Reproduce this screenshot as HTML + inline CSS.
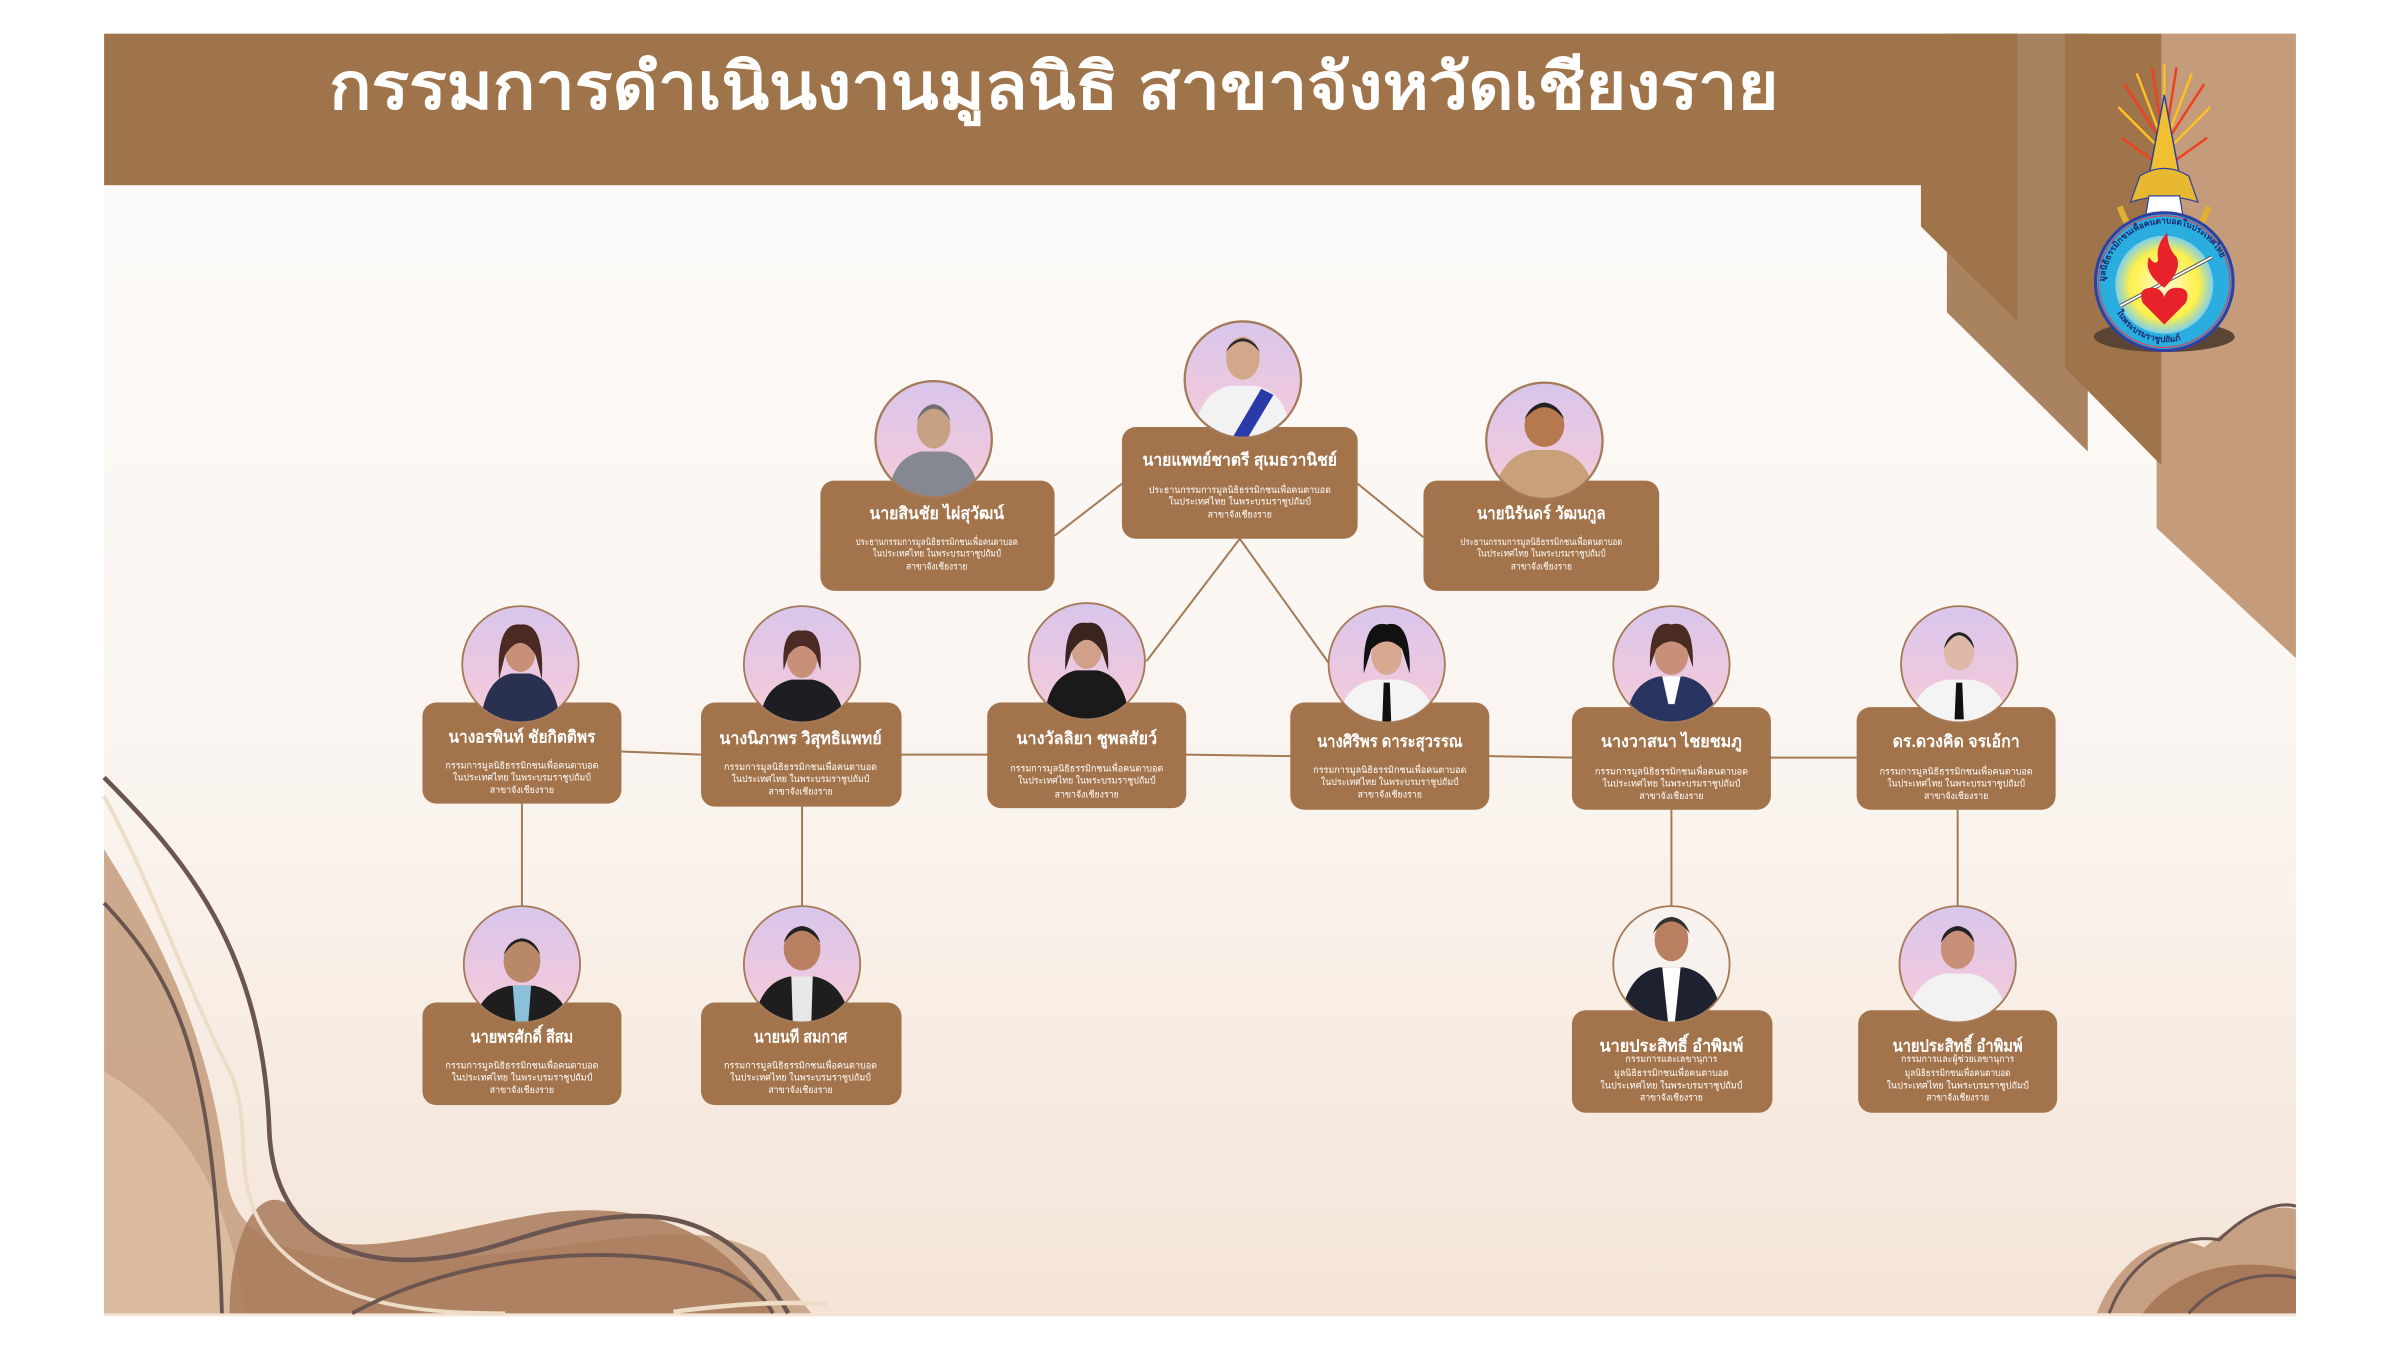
<!DOCTYPE html>
<html><head><meta charset="utf-8">
<style>
html,body{margin:0;padding:0;background:#fff;}
svg{display:block;}
text{font-family:"Liberation Sans","Noto Sans CJK SC",sans-serif;fill:#fff;}
.nm{font-size:11px;font-weight:bold;text-anchor:middle;}
.sb{font-size:6.2px;text-anchor:middle;}
</style></head>
<body>
<svg width="2400" height="1350" viewBox="0 0 1568 882" xmlns="http://www.w3.org/2000/svg">
<defs>
<linearGradient id="bg" x1="0" y1="0" x2="0" y2="1">
<stop offset="0" stop-color="#fdfcfb"/><stop offset="0.6" stop-color="#faf4ef"/><stop offset="1" stop-color="#f4e4d6"/>
</linearGradient>
<linearGradient id="ph" x1="0" y1="0" x2="0" y2="1">
<stop offset="0" stop-color="#d8c6ec"/><stop offset="0.6" stop-color="#ecc8e0"/><stop offset="1" stop-color="#f3cfd8"/>
</linearGradient>
<radialGradient id="sun" cx="0.5" cy="0.5" r="0.5">
<stop offset="0" stop-color="#fffbd0"/><stop offset="0.7" stop-color="#fff04a"/><stop offset="1" stop-color="#7fd0e8"/>
</radialGradient>
<clipPath id="cc"><circle cx="0" cy="0" r="38"/></clipPath>
<path id="arcTop" d="M1375,186 A40,40 0 0 1 1455,186"/>
<path id="arcBot" d="M1380,196 A36,36 0 0 0 1450,196"/>
</defs>

<!-- panel -->
<rect x="68" y="22" width="1432" height="838" fill="url(#bg)"/>

<!-- right decorations -->
<polygon points="1409,22 1500,22 1500,430 1409,345" fill="#c49b7b"/>
<polygon points="1272,22 1364,22 1364,295 1272,204" fill="#a9825f"/>
<polygon points="1349,22 1412,22 1412,304 1349,240" fill="#a0744a"/>
<polygon points="1255,22 1318,22 1318,210 1255,148" fill="#a0744a"/>
<!-- header -->
<rect x="68" y="22" width="1188" height="99" fill="#a0744a"/>
<text x="215" y="71" font-size="42" font-weight="bold" textLength="947" lengthAdjust="spacingAndGlyphs">กรรมการดำเนินงานมูลนิธิ สาขาจังหวัดเชียงราย</text>

<!-- logo -->
<g>
<g stroke-width="1.6">
<line x1="1414" y1="95" x2="1388" y2="55" stroke="#f04020"/>
<line x1="1414" y1="95" x2="1396" y2="48" stroke="#ffc020"/>
<line x1="1414" y1="95" x2="1406" y2="44" stroke="#f04020"/>
<line x1="1414" y1="95" x2="1414" y2="42" stroke="#ffc020"/>
<line x1="1414" y1="95" x2="1422" y2="44" stroke="#f04020"/>
<line x1="1414" y1="95" x2="1432" y2="48" stroke="#ffc020"/>
<line x1="1414" y1="95" x2="1440" y2="55" stroke="#f04020"/>
<line x1="1414" y1="100" x2="1384" y2="70" stroke="#ffc020"/>
<line x1="1414" y1="100" x2="1444" y2="70" stroke="#ffc020"/>
<line x1="1414" y1="110" x2="1386" y2="90" stroke="#f04020"/>
<line x1="1414" y1="110" x2="1442" y2="90" stroke="#f04020"/>
</g>
<polygon points="1414,62 1404,115 1424,115" fill="#f0c030" stroke="#3040a0" stroke-width="1"/>
<path d="M1398,115 Q1414,105 1430,115 L1436,132 Q1414,125 1392,132 Z" fill="#e8b830" stroke="#3040a0" stroke-width="0.8"/>
<path d="M1385,135 Q1390,150 1400,158 M1443,135 Q1438,150 1428,158" stroke="#e0b030" stroke-width="4" fill="none"/>
<path d="M1404,128 L1424,128 L1426,140 Q1434,150 1440,160 L1388,160 Q1394,150 1402,140 Z" fill="#fff" stroke="#3040a0" stroke-width="0.8"/>
<ellipse cx="1414" cy="220" rx="46" ry="10" fill="#5a4535"/>
<circle cx="1414" cy="184" r="45" fill="#2aaee0" stroke="#3040a0" stroke-width="2"/>
<circle cx="1414" cy="184" r="43" fill="none" stroke="#e04050" stroke-width="0.8"/>
<circle cx="1414" cy="186" r="32" fill="url(#sun)"/>
<line x1="1385" y1="200" x2="1445" y2="168" stroke="#555" stroke-width="2.5"/>
<line x1="1385" y1="200" x2="1445" y2="168" stroke="#fff" stroke-width="1.2"/>
<path d="M1414,188 Q1400,178 1404,168 Q1408,174 1410,170 Q1408,160 1416,152 Q1416,162 1422,168 Q1426,176 1414,188 Z" fill="#e8222a"/>
<path d="M1414,212 L1400,198 Q1396,188 1406,188 Q1412,188 1414,194 Q1416,188 1422,188 Q1432,188 1428,198 Z" fill="#e8222a"/>
<text font-size="5.5" font-weight="bold" style="fill:#1a2a70"><textPath href="#arcTop" startOffset="2">มูลนิธิธรรมิกชนเพื่อคนตาบอดในประเทศไทย</textPath></text>
<text font-size="5.5" font-weight="bold" style="fill:#1a2a70"><textPath href="#arcBot" startOffset="8">ในพระบรมราชูปถัมภ์</textPath></text>
</g>

<!-- bottom-left waves -->
<g>
<path d="M68,555 C110,620 140,690 148,770 C156,820 210,826 290,822 C380,818 450,790 500,820 L530,858 L68,858 Z" fill="#c7a083" opacity="0.9"/>
<path d="M68,700 C120,730 150,780 160,858 L68,858 Z" fill="#dcbc9e"/>
<path d="M150,858 C150,800 175,760 200,800 C220,830 300,800 360,792 C420,786 470,800 505,858 Z" fill="#a87a5a" opacity="0.85"/>
<path d="M68,520 C100,580 120,640 150,700 C170,740 140,790 200,830 C240,858 300,858 330,858" stroke="#eddcc6" stroke-width="2.5" fill="none"/>
<path d="M68,508 C120,560 172,620 176,740 C180,820 250,838 330,812 C410,786 470,780 515,858" stroke="#6b5550" stroke-width="3" fill="none"/>
<path d="M68,590 C115,640 140,690 145,858" stroke="#6b5550" stroke-width="2.5" fill="none"/>
<path d="M230,858 C300,820 400,810 470,830 C490,838 500,848 505,858" stroke="#6b5550" stroke-width="2.5" fill="none"/>
<path d="M440,857 C480,852 510,850 540,852" stroke="#eddcc6" stroke-width="3" fill="none"/>
</g>
<!-- bottom-right waves -->
<g>
<path d="M1370,858 C1380,830 1410,800 1440,815 C1460,800 1480,785 1500,790 L1500,858 Z" fill="#c7a083"/>
<path d="M1400,858 C1420,830 1460,820 1500,830 L1500,858 Z" fill="#a87a5a"/>
<path d="M1378,858 C1390,825 1420,805 1450,810 C1470,790 1490,785 1500,788" stroke="#6b5550" stroke-width="2" fill="none"/>
<path d="M1430,858 C1450,835 1480,830 1500,835" stroke="#6b5550" stroke-width="2" fill="none"/>
</g>

<!-- connectors -->
<g stroke="#a47a55" stroke-width="1.3" fill="none">
<line x1="689" y1="350" x2="733" y2="316"/>
<line x1="887" y1="316" x2="930" y2="351"/>
<line x1="810" y1="352" x2="749" y2="432"/>
<line x1="810" y1="352" x2="868" y2="433"/>
<polyline points="406,491 458,493 589,493 645,493 775,493 843,494 973,494 1027,495 1157,495 1213,495"/>
<line x1="341" y1="525" x2="341" y2="592"/>
<line x1="524" y1="527" x2="524" y2="592"/>
<line x1="1092" y1="529" x2="1092" y2="592"/>
<line x1="1279" y1="529" x2="1279" y2="592"/>
</g>

<!-- boxes -->
<g fill="#a3744b">
<rect x="733" y="279" width="154" height="73" rx="9"/>
<rect x="536" y="314" width="153" height="72" rx="9"/>
<rect x="930" y="314" width="154" height="72" rx="9"/>
<rect x="276" y="459" width="130" height="66" rx="9"/>
<rect x="458" y="459" width="131" height="68" rx="9"/>
<rect x="645" y="459" width="130" height="69" rx="9"/>
<rect x="843" y="459" width="130" height="70" rx="9"/>
<rect x="1027" y="462" width="130" height="67" rx="9"/>
<rect x="1213" y="462" width="130" height="67" rx="9"/>
<rect x="276" y="655" width="130" height="67" rx="9"/>
<rect x="458" y="655" width="131" height="67" rx="9"/>
<rect x="1027" y="660" width="131" height="67" rx="9"/>
<rect x="1214" y="660" width="130" height="67" rx="9"/>
</g>

<!-- photos -->
<g id="photos">
<!-- N0 -->
<g transform="translate(812,248)"><g clip-path="url(#cc)"><circle r="38" fill="url(#ph)"/>
<path d="M-32,40 Q-30,8 -8,4 L8,4 Q30,8 32,40 Z" fill="#f2f2f2"/><path d="M12,6 L-8,40 L2,40 L20,10 Z" fill="#2a3aa8"/>
<ellipse cx="0" cy="-14" rx="11" ry="14" fill="#d3a88a"/><path d="M-11,-18 Q0,-32 11,-18 Q8,-26 0,-27 Q-8,-26 -11,-18Z" fill="#2a2a2a"/></g>
<circle r="38" fill="none" stroke="#a57a58" stroke-width="1.5"/></g>
<!-- N1 -->
<g transform="translate(610,287)"><g clip-path="url(#cc)"><circle r="38" fill="url(#ph)"/>
<path d="M-30,40 Q-28,12 -8,8 L8,8 Q28,12 30,40 Z" fill="#858890"/>
<ellipse cx="0" cy="-8" rx="11" ry="14" fill="#c8a084"/><path d="M-11,-12 Q0,-28 11,-12 Q8,-22 0,-23 Q-8,-22 -11,-12Z" fill="#707070"/></g>
<circle r="38" fill="none" stroke="#a57a58" stroke-width="1.5"/></g>
<!-- N2 -->
<g transform="translate(1009,288)"><g clip-path="url(#cc)"><circle r="38" fill="url(#ph)"/>
<path d="M-34,40 Q-30,10 -8,6 L8,6 Q30,10 34,40 Z" fill="#c8a07a"/>
<ellipse cx="0" cy="-10" rx="13" ry="14" fill="#b5784f"/><path d="M-13,-14 Q0,-30 13,-14 Q9,-24 0,-25 Q-9,-24 -13,-14Z" fill="#222"/></g>
<circle r="38" fill="none" stroke="#a57a58" stroke-width="1.5"/></g>
<!-- A -->
<g transform="translate(340,434)"><g clip-path="url(#cc)"><circle r="38" fill="url(#ph)"/>
<path d="M-26,40 Q-24,10 -6,6 L6,6 Q24,10 26,40 Z" fill="#2a3050"/>
<ellipse cx="0" cy="-8" rx="10" ry="13" fill="#c89078"/><path d="M-14,10 Q-16,-28 0,-26 Q16,-28 14,10 L10,-6 Q0,-22 -10,-6Z" fill="#4a2a22"/></g>
<circle r="38" fill="none" stroke="#a57a58" stroke-width="1.2"/></g>
<!-- B -->
<g transform="translate(524,434)"><g clip-path="url(#cc)"><circle r="38" fill="url(#ph)"/>
<path d="M-28,40 Q-26,14 -7,10 L7,10 Q26,14 28,40 Z" fill="#1e1e22"/>
<ellipse cx="0" cy="-4" rx="10" ry="13" fill="#c89078"/><path d="M-12,4 Q-14,-24 0,-22 Q14,-24 12,4 L9,-6 Q0,-18 -9,-6Z" fill="#4a2a22"/></g>
<circle r="38" fill="none" stroke="#a57a58" stroke-width="1.2"/></g>
<!-- C -->
<g transform="translate(710,432)"><g clip-path="url(#cc)"><circle r="38" fill="url(#ph)"/>
<path d="M-28,40 Q-26,10 -7,6 L7,6 Q26,10 28,40 Z" fill="#1a1a1a"/>
<ellipse cx="0" cy="-8" rx="10" ry="13" fill="#d0a088"/><path d="M-14,6 Q-15,-28 0,-25 Q15,-28 14,6 L10,-6 Q0,-22 -10,-6Z" fill="#3a2420"/></g>
<circle r="38" fill="none" stroke="#a57a58" stroke-width="1.2"/></g>
<!-- D -->
<g transform="translate(906,434)"><g clip-path="url(#cc)"><circle r="38" fill="url(#ph)"/>
<path d="M-32,40 Q-30,14 -8,10 L8,10 Q30,14 32,40 Z" fill="#f4f4f4"/><path d="M-2,12 L2,12 L3,40 L-3,40Z" fill="#111"/>
<ellipse cx="0" cy="-6" rx="10" ry="13" fill="#d8a890"/><path d="M-15,6 Q-16,-30 0,-26 Q16,-30 15,6 L10,-10 Q0,-20 -10,-10Z" fill="#111"/></g>
<circle r="38" fill="none" stroke="#a57a58" stroke-width="1.2"/></g>
<!-- E -->
<g transform="translate(1092,434)"><g clip-path="url(#cc)"><circle r="38" fill="url(#ph)"/>
<path d="M-30,40 Q-28,12 -8,8 L8,8 Q28,12 30,40 Z" fill="#283560"/><path d="M-6,8 L6,8 L2,26 L-2,26Z" fill="#fff"/>
<ellipse cx="0" cy="-6" rx="11" ry="13" fill="#c89078"/><path d="M-14,2 Q-15,-30 0,-26 Q15,-30 14,2 L10,-10 Q0,-20 -10,-10Z" fill="#4a2a22"/></g>
<circle r="38" fill="none" stroke="#a57a58" stroke-width="1.2"/></g>
<!-- F -->
<g transform="translate(1280,434)"><g clip-path="url(#cc)"><circle r="38" fill="url(#ph)"/>
<path d="M-32,40 Q-30,14 -8,10 L8,10 Q30,14 32,40 Z" fill="#f4f4f4"/><path d="M-2,12 L2,12 L3,36 L-3,36Z" fill="#111"/>
<ellipse cx="0" cy="-8" rx="10" ry="12" fill="#e0b8a8"/><path d="M-10,-10 Q0,-28 10,-10 Q8,-20 0,-21 Q-8,-20 -10,-10Z" fill="#222"/></g>
<circle r="38" fill="none" stroke="#a57a58" stroke-width="1.2"/></g>
<!-- G -->
<g transform="translate(341,630)"><g clip-path="url(#cc)"><circle r="38" fill="url(#ph)"/>
<path d="M-32,40 Q-28,18 -8,14 L8,14 Q28,18 32,40 Z" fill="#1e1e1e"/><path d="M-6,14 L6,14 L4,40 L-4,40Z" fill="#8ac0d8"/>
<ellipse cx="0" cy="-2" rx="12" ry="14" fill="#b88868"/><path d="M-12,-6 Q0,-24 12,-6 Q9,-16 0,-17 Q-9,-16 -12,-6Z" fill="#222"/></g>
<circle r="38" fill="none" stroke="#a57a58" stroke-width="1.2"/></g>
<!-- H -->
<g transform="translate(524,630)"><g clip-path="url(#cc)"><circle r="38" fill="url(#ph)"/>
<path d="M-32,40 Q-28,12 -8,8 L8,8 Q28,12 32,40 Z" fill="#1e1e1e"/><path d="M-7,8 L7,8 L6,40 L-6,40Z" fill="#e8e8e8"/>
<ellipse cx="0" cy="-10" rx="12" ry="14" fill="#b88060"/><path d="M-12,-14 Q0,-30 12,-14 Q9,-24 0,-25 Q-9,-24 -12,-14Z" fill="#222"/></g>
<circle r="38" fill="none" stroke="#a57a58" stroke-width="1.2"/></g>
<!-- I -->
<g transform="translate(1092,630)"><g clip-path="url(#cc)"><circle r="38" fill="#f8f2ee"/>
<path d="M-34,40 Q-30,6 -8,2 L8,2 Q30,6 34,40 Z" fill="#1e2230"/><path d="M-6,2 L6,2 L2,40 L-2,40Z" fill="#fff"/>
<ellipse cx="0" cy="-16" rx="11" ry="14" fill="#b88060"/><path d="M-12,-20 Q0,-36 12,-20 Q9,-30 0,-31 Q-9,-30 -12,-20Z" fill="#333"/></g>
<circle r="38" fill="none" stroke="#a57a58" stroke-width="1.2"/></g>
<!-- J -->
<g transform="translate(1279,630)"><g clip-path="url(#cc)"><circle r="38" fill="url(#ph)"/>
<path d="M-34,40 Q-30,10 -8,6 L8,6 Q30,10 34,40 Z" fill="#f2f2f2"/>
<ellipse cx="0" cy="-10" rx="11" ry="13" fill="#c89078"/><path d="M-11,-14 Q0,-30 11,-14 Q9,-24 0,-25 Q-9,-24 -11,-14Z" fill="#222"/></g>
<circle r="38" fill="none" stroke="#a57a58" stroke-width="1.2"/></g>
</g>

<!-- labels top row -->
<text class="nm" x="810" y="304" textLength="127" lengthAdjust="spacingAndGlyphs">นายแพทย์ชาตรี สุเมธวานิชย์</text>
<text class="sb" x="810" y="322" textLength="119" lengthAdjust="spacingAndGlyphs">ประธานกรรมการมูลนิธิธรรมิกชนเพื่อคนตาบอด</text>
<text class="sb" x="810" y="329.5" textLength="93" lengthAdjust="spacingAndGlyphs">ในประเทศไทย ในพระบรมราชูปถัมป์</text>
<text class="sb" x="810" y="338" textLength="42" lengthAdjust="spacingAndGlyphs">สาขาจังเชียงราย</text>

<text class="nm" x="612" y="339" textLength="88" lengthAdjust="spacingAndGlyphs">นายสินชัย ไผ่สุวัฒน์</text>
<text class="sb" x="612" y="356" textLength="106" lengthAdjust="spacingAndGlyphs">ประธานกรรมการมูลนิธิธรรมิกชนเพื่อคนตาบอด</text>
<text class="sb" x="612" y="363.5" textLength="84" lengthAdjust="spacingAndGlyphs">ในประเทศไทย ในพระบรมราชูปถัมป์</text>
<text class="sb" x="612" y="372" textLength="40" lengthAdjust="spacingAndGlyphs">สาขาจังเชียงราย</text>

<text class="nm" x="1007" y="339" textLength="84" lengthAdjust="spacingAndGlyphs">นายนิรันดร์ วัฒนกูล</text>
<text class="sb" x="1007" y="356" textLength="106" lengthAdjust="spacingAndGlyphs">ประธานกรรมการมูลนิธิธรรมิกชนเพื่อคนตาบอด</text>
<text class="sb" x="1007" y="363.5" textLength="84" lengthAdjust="spacingAndGlyphs">ในประเทศไทย ในพระบรมราชูปถัมป์</text>
<text class="sb" x="1007" y="372" textLength="40" lengthAdjust="spacingAndGlyphs">สาขาจังเชียงราย</text>

<!-- row 2 -->
<text class="nm" x="341" y="485" textLength="96" lengthAdjust="spacingAndGlyphs">นางอรพินท์ ชัยกิตติพร</text>
<text class="sb" x="341" y="502" textLength="100" lengthAdjust="spacingAndGlyphs">กรรมการมูลนิธิธรรมิกชนเพื่อคนตาบอด</text>
<text class="sb" x="341" y="510" textLength="90" lengthAdjust="spacingAndGlyphs">ในประเทศไทย ในพระบรมราชูปถัมป์</text>
<text class="sb" x="341" y="518" textLength="42" lengthAdjust="spacingAndGlyphs">สาขาจังเชียงราย</text>

<text class="nm" x="523" y="486" textLength="106" lengthAdjust="spacingAndGlyphs">นางนิภาพร วิสุทธิแพทย์</text>
<text class="sb" x="523" y="503" textLength="100" lengthAdjust="spacingAndGlyphs">กรรมการมูลนิธิธรรมิกชนเพื่อคนตาบอด</text>
<text class="sb" x="523" y="511" textLength="90" lengthAdjust="spacingAndGlyphs">ในประเทศไทย ในพระบรมราชูปถัมป์</text>
<text class="sb" x="523" y="519" textLength="42" lengthAdjust="spacingAndGlyphs">สาขาจังเชียงราย</text>

<text class="nm" x="710" y="486" textLength="92" lengthAdjust="spacingAndGlyphs">นางวัลลิยา ชูพลสัยว์</text>
<text class="sb" x="710" y="504" textLength="100" lengthAdjust="spacingAndGlyphs">กรรมการมูลนิธิธรรมิกชนเพื่อคนตาบอด</text>
<text class="sb" x="710" y="512" textLength="90" lengthAdjust="spacingAndGlyphs">ในประเทศไทย ในพระบรมราชูปถัมป์</text>
<text class="sb" x="710" y="521" textLength="42" lengthAdjust="spacingAndGlyphs">สาขาจังเชียงราย</text>

<text class="nm" x="908" y="488" textLength="95" lengthAdjust="spacingAndGlyphs">นางศิริพร ดาระสุวรรณ</text>
<text class="sb" x="908" y="505" textLength="100" lengthAdjust="spacingAndGlyphs">กรรมการมูลนิธิธรรมิกชนเพื่อคนตาบอด</text>
<text class="sb" x="908" y="513" textLength="90" lengthAdjust="spacingAndGlyphs">ในประเทศไทย ในพระบรมราชูปถัมป์</text>
<text class="sb" x="908" y="521" textLength="42" lengthAdjust="spacingAndGlyphs">สาขาจังเชียงราย</text>

<text class="nm" x="1092" y="488" textLength="92" lengthAdjust="spacingAndGlyphs">นางวาสนา ไชยชมภู</text>
<text class="sb" x="1092" y="506" textLength="100" lengthAdjust="spacingAndGlyphs">กรรมการมูลนิธิธรรมิกชนเพื่อคนตาบอด</text>
<text class="sb" x="1092" y="514" textLength="90" lengthAdjust="spacingAndGlyphs">ในประเทศไทย ในพระบรมราชูปถัมป์</text>
<text class="sb" x="1092" y="522" textLength="42" lengthAdjust="spacingAndGlyphs">สาขาจังเชียงราย</text>

<text class="nm" x="1278" y="488" textLength="83" lengthAdjust="spacingAndGlyphs">ดร.ดวงคิด จรเอ้กา</text>
<text class="sb" x="1278" y="506" textLength="100" lengthAdjust="spacingAndGlyphs">กรรมการมูลนิธิธรรมิกชนเพื่อคนตาบอด</text>
<text class="sb" x="1278" y="514" textLength="90" lengthAdjust="spacingAndGlyphs">ในประเทศไทย ในพระบรมราชูปถัมป์</text>
<text class="sb" x="1278" y="522" textLength="42" lengthAdjust="spacingAndGlyphs">สาขาจังเชียงราย</text>

<!-- row 3 -->
<text class="nm" x="341" y="681" textLength="67" lengthAdjust="spacingAndGlyphs">นายพรศักดิ์ สีสม</text>
<text class="sb" x="341" y="698" textLength="100" lengthAdjust="spacingAndGlyphs">กรรมการมูลนิธิธรรมิกชนเพื่อคนตาบอด</text>
<text class="sb" x="341" y="706" textLength="92" lengthAdjust="spacingAndGlyphs">ในประเทศไทย ในพระบรมราชูปถัมป์</text>
<text class="sb" x="341" y="714" textLength="42" lengthAdjust="spacingAndGlyphs">สาขาจังเชียงราย</text>

<text class="nm" x="523" y="681" textLength="61" lengthAdjust="spacingAndGlyphs">นายนที สมกาศ</text>
<text class="sb" x="523" y="698" textLength="100" lengthAdjust="spacingAndGlyphs">กรรมการมูลนิธิธรรมิกชนเพื่อคนตาบอด</text>
<text class="sb" x="523" y="706" textLength="92" lengthAdjust="spacingAndGlyphs">ในประเทศไทย ในพระบรมราชูปถัมป์</text>
<text class="sb" x="523" y="714" textLength="42" lengthAdjust="spacingAndGlyphs">สาขาจังเชียงราย</text>

<text class="nm" x="1092" y="687" textLength="94" lengthAdjust="spacingAndGlyphs">นายประสิทธิ์ อำพิมพ์</text>
<text class="sb" x="1092" y="694" textLength="60" lengthAdjust="spacingAndGlyphs">กรรมการและเลขานุการ</text>
<text class="sb" x="1092" y="703" textLength="75" lengthAdjust="spacingAndGlyphs">มูลนิธิธรรมิกชนเพื่อคนตาบอด</text>
<text class="sb" x="1092" y="711" textLength="93" lengthAdjust="spacingAndGlyphs">ในประเทศไทย ในพระบรมราชูปถัมป์</text>
<text class="sb" x="1092" y="719" textLength="41" lengthAdjust="spacingAndGlyphs">สาขาจังเชียงราย</text>

<text class="nm" x="1279" y="687" textLength="85" lengthAdjust="spacingAndGlyphs">นายประสิทธิ์ อำพิมพ์</text>
<text class="sb" x="1279" y="694" textLength="74" lengthAdjust="spacingAndGlyphs">กรรมการและผู้ช่วยเลขานุการ</text>
<text class="sb" x="1279" y="703" textLength="69" lengthAdjust="spacingAndGlyphs">มูลนิธิธรรมิกชนเพื่อคนตาบอด</text>
<text class="sb" x="1279" y="711" textLength="93" lengthAdjust="spacingAndGlyphs">ในประเทศไทย ในพระบรมราชูปถัมป์</text>
<text class="sb" x="1279" y="719" textLength="41" lengthAdjust="spacingAndGlyphs">สาขาจังเชียงราย</text>
</svg>
</body></html>
